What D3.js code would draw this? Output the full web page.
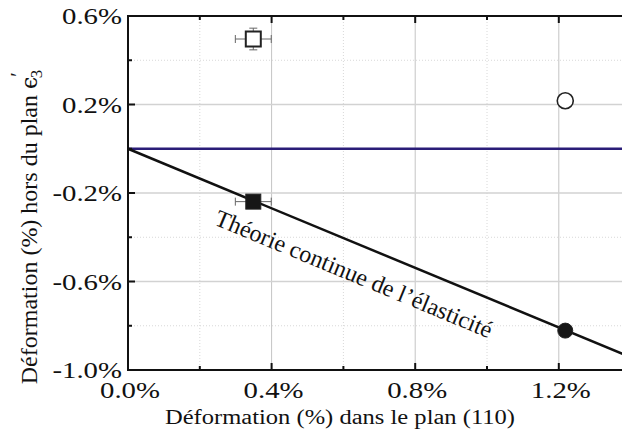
<!DOCTYPE html>
<html>
<head>
<meta charset="utf-8">
<script src="https://cdn.jsdelivr.net/npm/d3@7"></script>
<style>
  body { margin: 0; background: #fff; }
  svg { display: block; }
  text { font-family: "Liberation Serif", Tinos, "Times New Roman", Times, serif; }
</style>
</head>
<body>
<svg width="622" height="447"></svg>
<script>
// data (strain in %)
var majorX = [0.0, 0.4, 0.8, 1.2],
    minorX = [0.2, 0.6, 1.0],
    majorY = [0.6, 0.2, -0.2, -0.6, -1.0],
    minorY = [0.4, 0.0, -0.4, -0.8];

// measured points
var ptX    = [0.349, 0.349, 1.218, 1.218],
    ptY    = [0.496, -0.239, 0.217, -0.822],
    ptErrX = [0.05, 0.05, 0, 0],
    ptErrY = [0.049, 0.02, 0, 0],
    ptShape = ["square", "square", "circle", "circle"],
    ptFilled = [false, true, false, true];

// continuum elasticity line + zero reference
var theoryX = [0, 1.4],
    theoryY = [0, -0.942];
var zeroX = [0, 1.4],
    zeroY = [0, 0];

var svg = d3.select("svg");

var x = d3.scaleLinear().domain([0, 1.4]).range([128, 630.6]),
    y = d3.scaleLinear().domain([-1.0, 0.6]).range([370, 16]);

var fmt = function(d) { return d3.format(".1f")(d).replace("−", "-") + "%"; };

// grid
var grid = svg.append("g");
grid.selectAll(".gxm").data(majorX.slice(1)).enter().append("line")
    .attr("x1", x).attr("x2", x).attr("y1", y(0.6)).attr("y2", y(-1.0))
    .attr("stroke", "#c4c4c4").attr("stroke-width", 1);
grid.selectAll(".gxn").data(minorX).enter().append("line")
    .attr("x1", x).attr("x2", x).attr("y1", y(0.6)).attr("y2", y(-1.0))
    .attr("stroke", "#d8d8d8").attr("stroke-width", 1).attr("stroke-dasharray", "1,2");
grid.selectAll(".gym").data(majorY.slice(1, 4)).enter().append("line")
    .attr("x1", x(0)).attr("x2", 622).attr("y1", y).attr("y2", y)
    .attr("stroke", "#d2d2d2").attr("stroke-width", 1.5);
grid.selectAll(".gyn").data(minorY).enter().append("line")
    .attr("x1", x(0)).attr("x2", 622).attr("y1", y).attr("y2", y)
    .attr("stroke", "#d8d8d8").attr("stroke-width", 1).attr("stroke-dasharray", "1,2");

// lines
var line = d3.line().x(function(d) { return x(d[0]); }).y(function(d) { return y(d[1]); });

svg.append("path")
    .attr("d", line(d3.zip(zeroX, zeroY)))
    .attr("fill", "none").attr("stroke", "#2a1d78").attr("stroke-width", 2.5);

svg.append("path")
    .attr("d", line(d3.zip(theoryX, theoryY)))
    .attr("fill", "none").attr("stroke", "#111").attr("stroke-width", 2.5);

// label along the theory line
var ang = Math.atan2(y(theoryY[1]) - y(theoryY[0]), x(theoryX[1]) - x(theoryX[0])) * 180 / Math.PI;
var lx = 0.632, ly = theoryY[0] + (theoryY[1] - theoryY[0]) * (lx - theoryX[0]) / (theoryX[1] - theoryX[0]);
svg.append("text")
    .attr("transform", "translate(" + x(lx) + "," + y(ly) + ") rotate(" + ang + ")")
    .attr("x", 11).attr("y", 37)
    .attr("text-anchor", "middle")
    .attr("font-size", 24)
    .attr("fill", "#111")
    .text("Théorie continue de l’élasticité");

// error bars
var pts = d3.range(ptX.length).map(function(i) {
    return { x: ptX[i], y: ptY[i], ex: ptErrX[i], ey: ptErrY[i], shape: ptShape[i], filled: ptFilled[i] };
});
var eb = svg.append("g").attr("stroke", "#666").attr("stroke-width", 1);
pts.forEach(function(d) {
    if (d.ex > 0) {
        eb.append("line").attr("x1", x(d.x - d.ex)).attr("x2", x(d.x + d.ex)).attr("y1", y(d.y)).attr("y2", y(d.y));
        [d.x - d.ex, d.x + d.ex].forEach(function(v) {
            eb.append("line").attr("x1", x(v)).attr("x2", x(v)).attr("y1", y(d.y) - 4).attr("y2", y(d.y) + 4);
        });
    }
    if (d.ey > 0) {
        eb.append("line").attr("x1", x(d.x)).attr("x2", x(d.x)).attr("y1", y(d.y - d.ey)).attr("y2", y(d.y + d.ey));
        [d.y - d.ey, d.y + d.ey].forEach(function(v) {
            eb.append("line").attr("x1", x(d.x) - 4).attr("x2", x(d.x) + 4).attr("y1", y(v)).attr("y2", y(v));
        });
    }
});

// markers
var mk = svg.append("g");
mk.selectAll("rect").data(pts.filter(function(d) { return d.shape == "square"; }))
    .enter().append("rect")
    .attr("x", function(d) { return x(d.x) - 7.5; })
    .attr("y", function(d) { return y(d.y) - 7.5; })
    .attr("width", 15).attr("height", 15)
    .attr("fill", function(d) { return d.filled ? "#161616" : "#fff"; })
    .attr("stroke", "#222").attr("stroke-width", function(d) { return d.filled ? 1 : 2; });
mk.selectAll("circle").data(pts.filter(function(d) { return d.shape == "circle"; }))
    .enter().append("circle")
    .attr("cx", function(d) { return x(d.x); })
    .attr("cy", function(d) { return y(d.y); })
    .attr("r", function(d) { return d.filled ? 7.5 : 8; })
    .attr("fill", function(d) { return d.filled ? "#161616" : "#fff"; })
    .attr("stroke", "#222").attr("stroke-width", function(d) { return d.filled ? 1 : 1.6; });

// axes frame (left, bottom, top) with inward ticks
var ax = svg.append("g").attr("stroke", "#111");
ax.append("line").attr("x1", x(0)).attr("x2", x(0)).attr("y1", y(0.6) - 1).attr("y2", y(-1.0) + 1).attr("stroke-width", 2);
ax.append("line").attr("x1", x(0) - 1).attr("x2", 622).attr("y1", y(-1.0)).attr("y2", y(-1.0)).attr("stroke-width", 2);
ax.append("line").attr("x1", x(0) - 1).attr("x2", 622).attr("y1", y(0.6)).attr("y2", y(0.6)).attr("stroke-width", 2);

function tickX(vals, len) {
    vals.forEach(function(v) {
        ax.append("line").attr("x1", x(v)).attr("x2", x(v)).attr("y1", y(-1.0)).attr("y2", y(-1.0) - len).attr("stroke-width", 2);
        ax.append("line").attr("x1", x(v)).attr("x2", x(v)).attr("y1", y(0.6)).attr("y2", y(0.6) + len).attr("stroke-width", 2);
    });
}
function tickY(vals, len) {
    vals.forEach(function(v) {
        ax.append("line").attr("x1", x(0)).attr("x2", x(0) + len).attr("y1", y(v)).attr("y2", y(v)).attr("stroke-width", 2);
    });
}
tickX(majorX.slice(1), 7);
tickX(minorX, 4);
tickY(majorY.slice(1, 4), 7);
tickY(minorY, 4);

// tick labels (stretched a bit horizontally like the original)
svg.selectAll(".ylab").data(majorY).enter().append("text")
    .attr("transform", function(d) { return "translate(122," + (y(d) + 8) + ") scale(1.2,1)"; })
    .attr("text-anchor", "end")
    .attr("font-size", 24)
    .attr("fill", "#111")
    .text(fmt);

svg.selectAll(".xlab").data(majorX).enter().append("text")
    .attr("transform", function(d) { return "translate(" + (x(d) + 2) + ",398) scale(1.2,1)"; })
    .attr("text-anchor", "middle")
    .attr("font-size", 24)
    .attr("fill", "#111")
    .text(fmt);

// axis titles
svg.append("text")
    .attr("x", 340).attr("y", 424)
    .attr("text-anchor", "middle")
    .attr("font-size", 20)
    .attr("textLength", 350).attr("lengthAdjust", "spacingAndGlyphs")
    .attr("fill", "#111")
    .text("Déformation (%) dans le plan (110)");

var yt = svg.append("text")
    .attr("transform", "translate(37,227) rotate(-90)")
    .attr("text-anchor", "middle")
    .attr("font-size", 24)
    .attr("fill", "#111");
yt.append("tspan").text("Déformation (%) hors du plan ");
yt.append("tspan").style("font-family", "'DejaVu Serif'").attr("font-size", 22).text("ϵ");
yt.append("tspan").attr("font-size", 20).attr("dy", -12).text("′");
yt.append("tspan").attr("font-size", 17).attr("dx", -6).attr("dy", 17).text("3");
</script>
</body>
</html>
